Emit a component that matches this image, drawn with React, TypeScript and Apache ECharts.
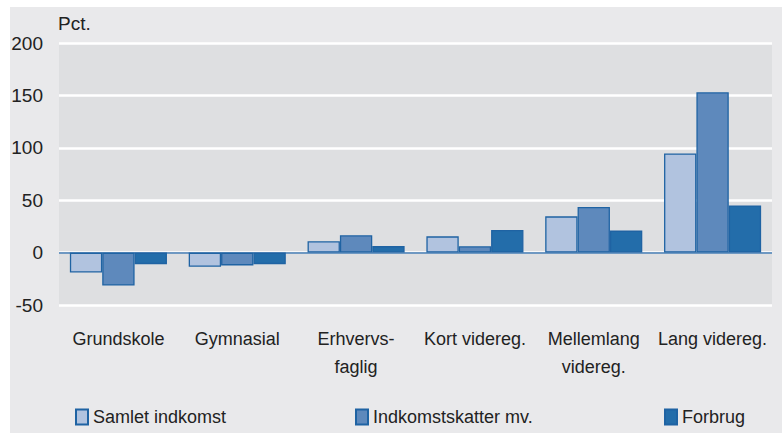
import React, { useEffect, useRef } from "react";
import * as echarts from "echarts";

const categories = ["Grundskole", "Gymnasial", "Erhvervs-\nfaglig", "Kort videreg.", "Mellemlang\nvidereg.", "Lang videreg."];
const samletIndkomst = [-19, -13.5, 10.8, 15.5, 34.6, 94.6];
const indkomstskatter = [-31.5, -12.2, 16.5, 6, 43.5, 153];
const forbrug = [-11, -11, 6.2, 21.5, 21, 45];
const seriesNames = ["Samlet indkomst", "Indkomstskatter mv.", "Forbrug"];
const yTicks = { min: -50, max: 200, interval: 50 };

const FONT = "'Liberation Sans Narrow', 'Arial Narrow', 'Liberation Sans', sans-serif";

export default function App() {
  const ref = useRef<HTMLDivElement>(null);
  useEffect(() => {
    if (!ref.current) return;
    const chart = echarts.init(ref.current, null, { renderer: "svg" });
    const colors = ["#B1C3DF", "#5E89BC", "#236DAA"];
    const datas = [samletIndkomst, indkomstskatter, forbrug];
    chart.setOption({
      animation: false,
      textStyle: { fontFamily: FONT },
      graphic: [
        { type: "rect", z: -10, shape: { x: 10, y: 7, width: 772, height: 426 }, style: { fill: "#E9E9EB" } },
        { type: "text", left: 58, top: 14, style: { text: "Pct.", fontSize: 19, fill: "#222", fontFamily: FONT } },
      ],
      grid: {
        left: 59, right: 10, top: 43, bottom: 130,
        show: true, backgroundColor: "#DEDFE1", borderWidth: 0,
      },
      legend: seriesNames.map((n, i) => ({
        data: [n],
        left: [70, 350, 659][i],
        top: 403,
        icon: "rect",
        itemWidth: 12,
        itemHeight: 15,
        itemGap: 6,
        textStyle: { fontSize: 18, color: "#222", fontFamily: FONT },
      })),
      xAxis: {
        type: "category",
        data: categories,
        axisLine: { show: false },
        axisTick: { show: false },
        axisLabel: { fontSize: 18, color: "#222", margin: 20, lineHeight: 28, interval: 0, fontFamily: FONT },
      },
      yAxis: {
        type: "value",
        min: yTicks.min, max: yTicks.max, interval: yTicks.interval,
        axisLine: { show: false },
        axisTick: { show: false },
        splitLine: { lineStyle: { color: "#FFFFFF", width: 2.5 } },
        axisLabel: { fontSize: 19, color: "#222", margin: 16, fontFamily: FONT },
      },
      series: datas.map((d, i) => ({
        type: "bar",
        name: seriesNames[i],
        data: d,
        barGap: "0%",
        barCategoryGap: "18.3%",
        itemStyle: { color: colors[i], borderColor: "#1F63A3", borderWidth: 1.3 },
        markLine: i === 0 ? {
          silent: true, symbol: "none", label: { show: false },
          lineStyle: { color: "#6E98C2", width: 2, type: "solid" },
          data: [{ yAxis: 0 }],
          z: 1,
        } : undefined,
      })),
    });
    return () => chart.dispose();
  }, []);
  return <div ref={ref} style={{ position: "absolute", left: 0, top: 0, width: 782, height: 435 }} />;
}
